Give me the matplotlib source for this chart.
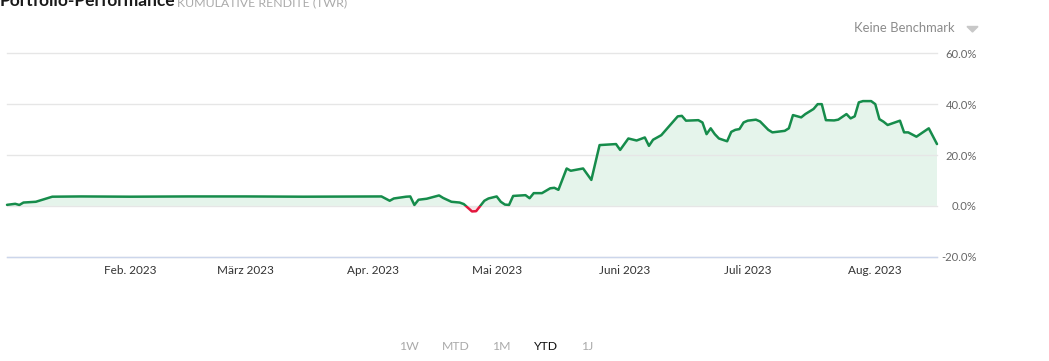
"""
Portfolio-Performance: cumulative time-weighted return (YTD), Highcharts-like look.
Saves out.png at 1049x361.
"""

import matplotlib.pyplot as plt
import matplotlib.dates as mdates
import numpy as np
import pandas as pd
from matplotlib.patches import Rectangle

plt.rcParams['font.family'] = ['Lato', 'DejaVu Sans']

# --------------------------------------------------------------------------- #
# Data
# --------------------------------------------------------------------------- #

dates = [
    '2023-01-02', '2023-01-04', '2023-01-05', '2023-01-06', '2023-01-09',
    '2023-01-11', '2023-01-13', '2023-01-20', '2023-02-01', '2023-02-15',
    '2023-03-01', '2023-03-15', '2023-04-03', '2023-04-05', '2023-04-06',
    '2023-04-09', '2023-04-10', '2023-04-11', '2023-04-12', '2023-04-14',
    '2023-04-17', '2023-04-18', '2023-04-20', '2023-04-22', '2023-04-23',
    '2023-04-25', '2023-04-26', '2023-04-28', '2023-04-29', '2023-05-01',
    '2023-05-02', '2023-05-03', '2023-05-04', '2023-05-05', '2023-05-08',
    '2023-05-09', '2023-05-10', '2023-05-12', '2023-05-14', '2023-05-15',
    '2023-05-16', '2023-05-18', '2023-05-19', '2023-05-22', '2023-05-24',
    '2023-05-26', '2023-05-30', '2023-05-31', '2023-06-02', '2023-06-04',
    '2023-06-06', '2023-06-07', '2023-06-08', '2023-06-10', '2023-06-14',
    '2023-06-15', '2023-06-16', '2023-06-19', '2023-06-20', '2023-06-21',
    '2023-06-22', '2023-06-23', '2023-06-24', '2023-06-26', '2023-06-27',
    '2023-06-28', '2023-06-29', '2023-06-30', '2023-07-01', '2023-07-03',
    '2023-07-04', '2023-07-06', '2023-07-07', '2023-07-10', '2023-07-11',
    '2023-07-12', '2023-07-14', '2023-07-15', '2023-07-17', '2023-07-18',
    '2023-07-19', '2023-07-20', '2023-07-22', '2023-07-23', '2023-07-25',
    '2023-07-26', '2023-07-27', '2023-07-28', '2023-07-29', '2023-07-31',
    '2023-08-01', '2023-08-02', '2023-08-03', '2023-08-04', '2023-08-07',
    '2023-08-08', '2023-08-09', '2023-08-11', '2023-08-14', '2023-08-16',
]

twr = [
    0.4, 0.8, 0.35, 1.3, 1.6,
    2.6, 3.6, 3.7, 3.6, 3.7,
    3.7, 3.6, 3.7, 2.0, 2.9,
    3.6, 3.7, 0.35, 2.4, 2.8,
    4.1, 3.1, 1.6, 1.3, 0.7,
    -2.2, -2.1, 2.0, 2.9, 3.7,
    1.6, 0.5, 0.35, 3.9, 4.2,
    3.0, 5.0, 5.0, 6.9, 7.1,
    6.3, 14.7, 13.8, 14.7, 10.2,
    23.9, 24.3, 22.0, 26.5, 25.7,
    26.9, 23.6, 26.0, 27.8, 35.2,
    35.4, 33.5, 33.7, 32.8, 28.2,
    30.5, 28.2, 26.5, 25.4, 29.1,
    29.9, 30.2, 32.8, 33.5, 33.9,
    33.2, 29.9, 28.9, 29.5, 30.5,
    35.7, 34.8, 36.1, 38.1, 40.0,
    40.0, 33.7, 33.6, 33.9, 36.1,
    34.4, 35.2, 40.7, 41.2, 41.2,
    40.0, 34.1, 33.1, 31.8, 33.5,
    28.9, 28.9, 27.2, 30.5, 24.3,
]

month_ticks = ['2023-02-01', '2023-03-01', '2023-04-01', '2023-05-01',
               '2023-06-01', '2023-07-01', '2023-08-01']
month_labels = ['Feb. 2023', 'März 2023', 'Apr. 2023', 'Mai 2023',
                'Juni 2023', 'Juli 2023', 'Aug. 2023']
y_ticks = [-20, 0, 20, 40, 60]
ranges = ['1W', 'MTD', '1M', 'YTD', '1J']

GREEN = '#168c4b'
GREEN_FILL = '#e5f4eb'
RED = '#e3173e'
RED_FILL = '#fbe3e8'

# --------------------------------------------------------------------------- #
# Figure
# --------------------------------------------------------------------------- #

x = pd.to_datetime(dates)
y = np.array(twr)

fig = plt.figure(figsize=(10.49, 3.61), dpi=100, facecolor='white')
ax = fig.add_axes([7 / 1049, 104.3 / 361, 930 / 1049, 203.4 / 361])

ax.fill_between(x, y, 0, where=y >= 0, interpolate=True,
                color=GREEN_FILL, lw=0, zorder=1)
ax.fill_between(x, y, 0, where=y < 0, interpolate=True,
                color=RED_FILL, lw=0, zorder=1)

# one line, coloured green above zero and red below via clipping
x0, x1 = mdates.date2num(x[0]) - 5, mdates.date2num(x[-1]) + 5
for color, (lo, hi) in [(GREEN, (0, 200)), (RED, (-200, 0))]:
    ln, = ax.plot(x, y, color=color, lw=1.8, solid_joinstyle='round',
                  solid_capstyle='round', zorder=3)
    clip = Rectangle((x0, lo), x1 - x0, hi - lo, transform=ax.transData)
    ln.set_clip_path(clip)

ax.set_xlim(x[0], x[-1])
ax.set_ylim(-20, 60)

for s in ax.spines.values():
    s.set_visible(False)

ax.set_yticks(y_ticks)
ax.set_yticklabels([f'{v:.1f}%' for v in y_ticks])
ax.grid(axis='y', color='#e6e6e6', lw=1, zorder=0)
for gl in ax.get_ygridlines():
    gl.set_clip_on(False)
ax.axhline(-20, color='#ccd6eb', lw=1, zorder=2, clip_on=False)
ax.tick_params(axis='y', left=False, labelleft=False, right=False,
               labelright=True, length=0, pad=28.8, labelsize=8.1,
               labelcolor='#666666')
for lab in ax.get_yticklabels():
    lab.set_horizontalalignment('right')

ax.set_xticks(pd.to_datetime(month_ticks))
ax.set_xticklabels(month_labels)
ax.tick_params(axis='x', length=0, pad=6.3, labelsize=8.5,
               labelcolor='#333333')

# header
fig.text(0, 1 - 6.5 / 361, 'Portfolio-Performance', fontsize=12.5,
         fontweight='bold', color='#1a1a1a', va='baseline', ha='left')
fig.text(177 / 1049, 1 - 6.5 / 361, 'KUMULATIVE RENDITE (TWR)',
         fontsize=8.9, color='#aaaaaa', va='baseline', ha='left')

fig.text(955 / 1049, 1 - 28 / 361, 'Keine Benchmark', fontsize=9.4,
         color='#8c8c8c', va='center', ha='right')
fig.patches.append(plt.Polygon(
    [(967 / 1049, 1 - 26.5 / 361), (978 / 1049, 1 - 26.5 / 361),
     (972.5 / 1049, 1 - 32 / 361)],
    closed=True, transform=fig.transFigure, color='#c8c8c8'))

# range selector
range_x = [409, 455.5, 501, 546, 587.5]
for lbl, px in zip(ranges, range_x):
    fig.text(px / 1049, 1 - 347 / 361, lbl, fontsize=8.8,
             color='#111111' if lbl == 'YTD' else '#aaaaaa',
             ha='center', va='center')

fig.savefig('out.png', dpi=100, facecolor='white')
